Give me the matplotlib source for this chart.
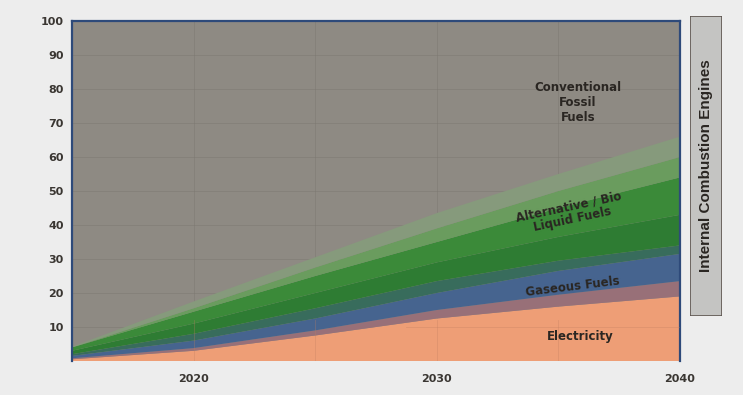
import matplotlib
matplotlib.use("Agg")
import matplotlib.pyplot as plt
from matplotlib.patches import Rectangle

# Share of transport energy by fuel type (%), stacked from the bottom
years = [2015, 2020, 2025, 2030, 2035, 2040]
electricity = [0.5, 3.0, 7.5, 12.5, 16.0, 19.0]
hybrid_band = [0.3, 0.8, 1.5, 2.5, 3.5, 4.5]
gaseous = [0.7, 2.2, 3.5, 5.0, 7.0, 8.0]
alt_dark = [0.5, 2.0, 3.0, 3.5, 3.0, 2.5]
alt_mid = [1.0, 3.0, 4.5, 5.5, 7.0, 9.0]
alt_bright = [1.0, 3.5, 5.0, 6.0, 8.5, 11.0]
alt_light = [0.0, 1.0, 2.5, 4.0, 5.0, 6.0]
alt_pale = [0.2, 2.0, 3.0, 4.5, 5.0, 6.0]

layers = [electricity, hybrid_band, gaseous, alt_dark, alt_mid,
          alt_bright, alt_light, alt_pale]
colors = ["#EE9E76", "#987078", "#46648F", "#386C5C", "#2E7C33",
          "#3B8A39", "#6A9C5E", "#869A7C"]

y_ticks = [10, 20, 30, 40, 50, 60, 70, 80, 90, 100]
x_ticks = [2020, 2030, 2040]

fig = plt.figure(figsize=(7.43, 3.95), dpi=100, facecolor="#EDEDED")
ax = fig.add_axes([72 / 743, 1 - 361 / 395, 608 / 743, 340 / 395])
ax.set_facecolor("#8E8A83")

ax.stackplot(years, *layers, colors=colors, linewidth=0, zorder=2)

ax.set_xlim(2015, 2040)
ax.set_ylim(0, 100)

# faint grid over the background
for gy in y_ticks[:-1]:
    ax.axhline(gy, color="#7A766F", lw=0.6, alpha=0.5, zorder=1)
for gx in [2020, 2025, 2030, 2035]:
    ax.axvline(gx, color="#7A766F", lw=0.6, alpha=0.5, zorder=1)
    ax.axvline(gx, color="#C07E60", lw=0.6, alpha=0.35, zorder=3, ymax=0.12)
ax.axhline(10, xmin=0.55, color="#C07E60", lw=0.6, alpha=0.35, zorder=3)

tick_font = dict(fontsize=8, fontweight="bold", color="#3A3632",
                 family="DejaVu Sans")
ax.set_yticks(y_ticks)
ax.set_yticklabels([str(v) for v in y_ticks], **tick_font)
ax.set_xticks(x_ticks)
ax.set_xticklabels([str(v) for v in x_ticks], **tick_font)
ax.tick_params(axis="both", length=0)
ax.tick_params(axis="y", pad=6)
ax.tick_params(axis="x", pad=9)

for side in ["left", "top", "right"]:
    ax.spines[side].set_color("#2E4A7A")
    ax.spines[side].set_linewidth(1.6)
ax.spines["bottom"].set_visible(False)

lbl = dict(fontsize=8.5, fontweight="bold", color="#2A2622",
           family="DejaVu Sans", ha="center", va="center", zorder=5)
ax.text(2035.8, 75.9, "Conventional\nFossil\nFuels", linespacing=1.2, **lbl)
ax.text(2035.5, 43.5, "Alternative / Bio\nLiquid Fuels", rotation=12,
        linespacing=1.05, **lbl)
ax.text(2035.6, 21.8, "Gaseous Fuels", rotation=7, **lbl)
ax.text(2035.9, 7.1, "Electricity", **lbl)

# side label box
box_ax = fig.add_axes([690 / 743, 1 - 316 / 395, 32 / 743, 300 / 395])
box_ax.set_xlim(0, 1)
box_ax.set_ylim(0, 1)
box_ax.axis("off")
box_ax.add_patch(Rectangle((0, 0), 1, 1, transform=box_ax.transAxes,
                           facecolor="#C4C4C2", edgecolor="#5E5650", lw=1.2))
box_ax.text(0.5, 0.5, "Internal Combustion Engines", rotation=90,
            ha="center", va="center", fontsize=11, fontweight="bold",
            color="#2A2622", family="Liberation Sans")

fig.savefig("out.png", dpi=100, facecolor=fig.get_facecolor())
